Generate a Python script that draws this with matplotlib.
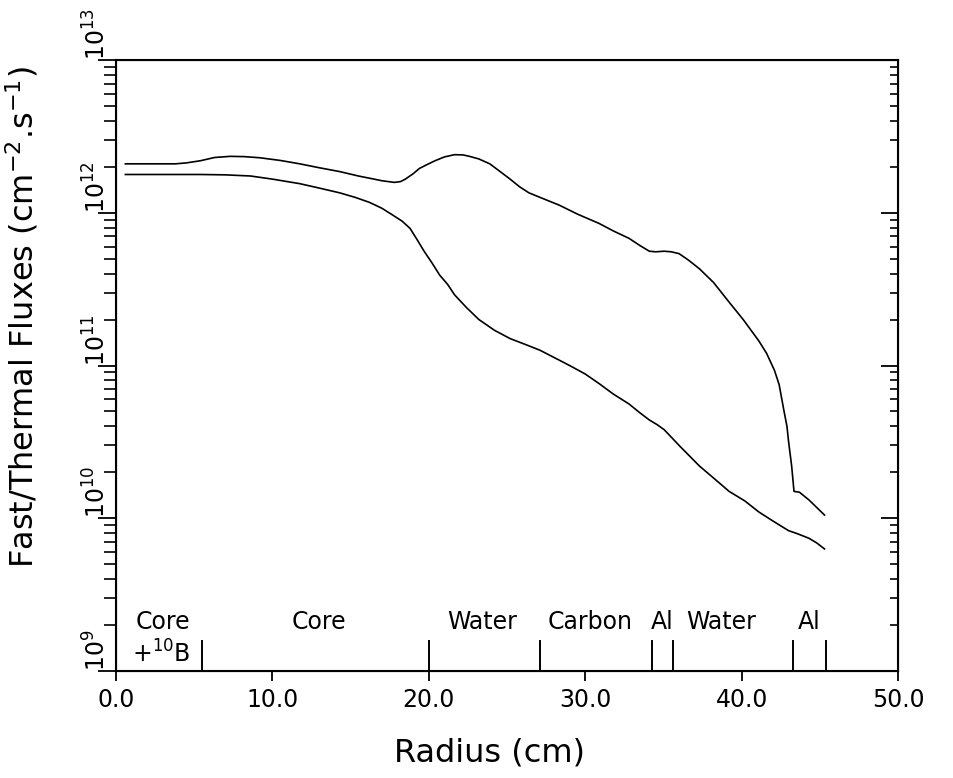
import math
import matplotlib.pyplot as plt
from matplotlib.ticker import LogLocator, FixedLocator, FuncFormatter, NullFormatter

# radius (cm) and flux (cm^-2 s^-1)
r_upper = [0.6, 3.8, 4.5, 5.4, 6.3, 7.3, 8.2, 9.2, 10.5, 11.75, 13.0, 14.3,
           15.5, 16.5, 17.0, 17.8, 18.2, 18.5, 19.0, 19.4, 19.9, 20.4, 21.0,
           21.65, 22.2, 22.6, 23.2, 23.9, 24.5, 25.2, 25.8, 26.4, 27.2, 28.35,
           29.5, 30.9, 31.8, 32.8, 33.5, 34.1, 34.5, 35.05, 35.5, 36.0, 36.6,
           37.3, 38.2, 39.2, 40.1, 41.1, 41.6, 42.1, 42.4, 42.7, 42.9, 43.0,
           43.2, 43.35, 43.7, 44.3, 45.3]
flux_upper = [2.09e12, 2.09e12, 2.12e12, 2.19e12, 2.30e12, 2.34e12, 2.33e12,
              2.29e12, 2.20e12, 2.09e12, 1.97e12, 1.86e12, 1.74e12, 1.66e12,
              1.62e12, 1.58e12, 1.60e12, 1.66e12, 1.80e12, 1.95e12, 2.07e12,
              2.19e12, 2.32e12, 2.40e12, 2.39e12, 2.34e12, 2.25e12, 2.09e12,
              1.88e12, 1.66e12, 1.48e12, 1.35e12, 1.25e12, 1.12e12, 9.8e11,
              8.5e11, 7.6e11, 6.8e11, 6.1e11, 5.6e11, 5.55e11, 5.6e11, 5.55e11,
              5.4e11, 4.9e11, 4.3e11, 3.5e11, 2.6e11, 2.0e11, 1.45e11, 1.2e11,
              9.3e10, 7.5e10, 5.1e10, 4.0e10, 3.2e10, 2.2e10, 1.5e10, 1.48e10,
              1.32e10, 1.05e10]

r_lower = [0.6, 3.0, 5.4, 7.0, 8.6, 10.0, 11.75, 13.0, 14.3, 15.3, 16.2, 17.0,
           17.8, 18.3, 18.8, 19.2, 19.7, 20.2, 20.7, 21.2, 21.65, 22.4, 23.2,
           24.2, 25.2, 26.2, 27.1, 28.0, 29.0, 30.0, 30.9, 31.8, 32.8, 33.5,
           34.1, 34.6, 35.05, 35.5, 36.0, 36.6, 37.3, 38.3, 39.2, 40.2, 41.1,
           42.0, 43.0, 43.6, 44.3, 44.8, 45.3]
flux_lower = [1.78e12, 1.78e12, 1.78e12, 1.77e12, 1.74e12, 1.66e12, 1.55e12,
              1.45e12, 1.35e12, 1.26e12, 1.17e12, 1.07e12, 9.5e11, 8.8e11,
              7.9e11, 6.8e11, 5.6e11, 4.7e11, 3.9e11, 3.4e11, 2.9e11, 2.4e11,
              2.0e11, 1.7e11, 1.5e11, 1.37e11, 1.26e11, 1.13e11, 1.0e11, 8.8e10,
              7.6e10, 6.5e10, 5.6e10, 4.9e10, 4.4e10, 4.1e10, 3.8e10, 3.4e10,
              3.0e10, 2.6e10, 2.2e10, 1.8e10, 1.5e10, 1.3e10, 1.1e10, 9.6e9,
              8.3e9, 7.9e9, 7.4e9, 6.9e9, 6.3e9]

# region boundaries and labels along the bottom
boundaries = [5.5, 20.0, 27.1, 34.3, 35.6, 43.3, 45.4]
region_names = ['Core', r'+$^{10}$B', 'Core', 'Water', 'Carbon', 'Al', 'Water', 'Al']
region_x = [3.0, 2.9, 13.0, 23.4, 30.3, 34.9, 38.7, 44.3]
region_row = [0, 1, 0, 0, 0, 0, 0, 0]

fig = plt.figure(figsize=(9.54, 7.78), dpi=100)
ax = fig.add_axes([0.1216, 0.1375, 0.8197, 0.7854])

ax.plot(r_upper, flux_upper, color='black', lw=1.2)
ax.plot(r_lower, flux_lower, color='black', lw=1.2)

ax.set_yscale('log')
ax.set_xlim(0, 50)
ax.set_ylim(1e9, 1e13)

# boundary markers rising from the bottom axis
for b in boundaries:
    ax.plot([b, b], [1e9, 1.58e9], color='black', lw=1.4)
for name, xr, row in zip(region_names, region_x, region_row):
    y = 2.1e9 if row == 0 else 1.3e9
    ax.text(xr, y, name, ha='center', va='center', fontsize=17)

for s in ax.spines.values():
    s.set_linewidth(1.5)

ax.xaxis.set_major_locator(FixedLocator([0, 10, 20, 30, 40, 50]))
ax.xaxis.set_major_formatter(FuncFormatter(lambda v, p: f'{v:.1f}'))
ax.tick_params(axis='x', direction='out', length=7, width=1.3, labelsize=17, pad=5)

ax.yaxis.set_major_locator(LogLocator(base=10, numticks=10))
ax.yaxis.set_minor_locator(LogLocator(base=10, subs=range(2, 10), numticks=20))
ax.yaxis.set_minor_formatter(NullFormatter())
ax.yaxis.set_major_formatter(FuncFormatter(lambda v, p: r'$10^{%d}$' % round(math.log10(v))))
ax.tick_params(axis='y', which='major', direction='out', length=13, width=1.3, labelsize=17, pad=-9)
ax.tick_params(axis='y', which='minor', direction='out', length=8.5, width=1.2)
for lab in ax.get_yticklabels():
    lab.set_rotation(90)
    lab.set_va('bottom')

ax2 = ax.twinx()
ax2.set_yscale('log')
ax2.set_ylim(1e9, 1e13)
ax2.yaxis.set_major_locator(LogLocator(base=10, numticks=10))
ax2.yaxis.set_minor_locator(LogLocator(base=10, subs=range(2, 10), numticks=20))
ax2.tick_params(axis='y', which='major', direction='in', length=12, width=1.3, labelright=False)
ax2.tick_params(axis='y', which='minor', direction='in', length=6, width=1.2)
ax2.yaxis.set_minor_formatter(NullFormatter())

ax.set_xlabel('Radius (cm)', fontsize=23)
ax.xaxis.set_label_coords(0.478, -0.108)
ax.set_ylabel(r'Fast/Thermal Fluxes (cm$^{-2}$.s$^{-1}$)', fontsize=23)
ax.yaxis.set_label_coords(-0.097, 0.58)

fig.savefig('out.png', dpi=100)
